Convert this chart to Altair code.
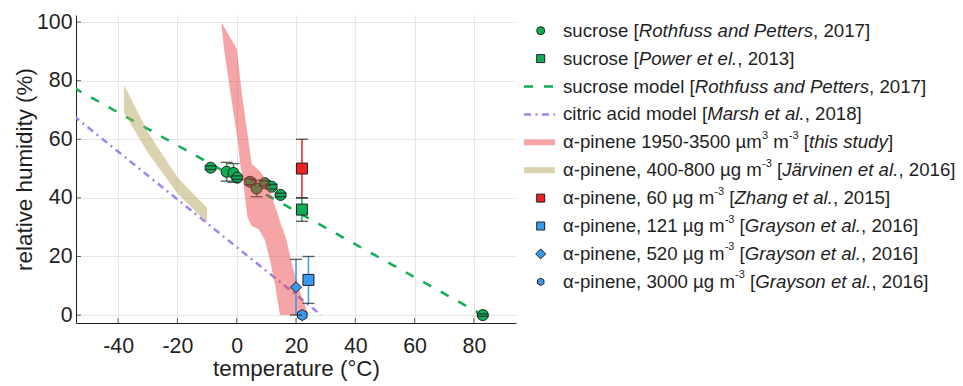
import altair as alt
import pandas as pd

# ------------------------------------------------------------------ data
# sucrose, Rothfuss and Petters 2017 (points with y error)
ros_T = [-8.8, -3.4, -1.1, 0.2, 4.5, 6.7, 9.5, 11.8, 14.8, 83.0]
ros_RH = [50.3, 48.9, 48.5, 46.9, 45.5, 43.2, 45.0, 43.8, 41.0, 0.0]
ros_err = [0.6, 3.2, 3.2, 0.6, 1.0, 2.8, 0.8, 0.8, 0.6, 0.4]
# sucrose, Power et al. 2013
power_T = [22.0]
power_RH = [36.0]
power_err = [4.0]
# alpha-pinene, Zhang et al. 2015
zhang_T = [22.0]
zhang_RH = [50.0]
zhang_err = [10.0]
# alpha-pinene, Grayson et al. 2016
g121_T, g121_RH, g121_err = [24.2], [12.0], [8.0]
g520_T, g520_RH, g520_err = [20.0], [9.5], [9.5]
g3000_T, g3000_RH, g3000_err = [22.1], [0.0], [0.0]
# models
sucmod_T = [-55.0, 83.0]
sucmod_RH = [77.6, 0.0]
citmod_T = [-55.0, 28.5]
citmod_RH = [68.0, 0.0]
# Jarvinen et al. 2016 band
jar_T = [-38.0, -30.0, -20.0, -10.0]
jar_hi = [78.5, 62.5, 47.0, 36.5]
jar_lo = [69.0, 55.5, 41.5, 31.5]
# this study band (x range for each RH)
study_RH = [0.0, 5.0, 10.0, 18.8, 25.6, 29.3, 30.5, 33.5, 37.0, 40.0, 45.5, 49.0, 51.5, 60.0, 75.0, 91.0, 99.6]
study_Tlo = [14.6, 13.8, 13.0, 11.2, 9.5, 7.4, 5.0, 3.6, 3.2, 2.8, 2.2, 1.6, 1.2, 0.3, -2.0, -4.3, -5.2]
study_Thi = [24.3, 22.4, 20.6, 18.3, 16.8, 15.6, 15.0, 14.2, 13.0, 12.0, 10.5, 7.9, 5.1, 3.9, 1.8, 0.0, -5.0]

x_ticks = [-40, -20, 0, 20, 40, 60, 80]
y_ticks = [0, 20, 40, 60, 80, 100]

legend_labels = [
    [("sucrose [", "n"), ("Rothfuss and Petters", "i"), (", 2017]", "n")],
    [("sucrose [", "n"), ("Power et el.", "i"), (", 2013]", "n")],
    [("sucrose model [", "n"), ("Rothfuss and Petters", "i"), (", 2017]", "n")],
    [("citric acid model [", "n"), ("Marsh et al.", "i"), (", 2018]", "n")],
    [("α-pinene 1950-3500 µm", "n"), ("3", "s"), (" m", "n"), ("-3", "s"), (" [", "n"), ("this study", "i"), ("]", "n")],
    [("α-pinene, 400-800 µg m", "n"), ("-3", "s"), (" [", "n"), ("Järvinen et al.", "i"), (", 2016]", "n")],
    [("α-pinene, 60 µg m", "n"), ("-3", "s"), (" [", "n"), ("Zhang et al.", "i"), (", 2015]", "n")],
    [("α-pinene, 121 µg m", "n"), ("-3", "s"), (" [", "n"), ("Grayson et al.", "i"), (", 2016]", "n")],
    [("α-pinene, 520 µg m", "n"), ("-3", "s"), (" [", "n"), ("Grayson et al.", "i"), (", 2016]", "n")],
    [("α-pinene, 3000 µg m", "n"), ("-3", "s"), (" [", "n"), ("Grayson et al.", "i"), (", 2016]", "n")],
]

# ------------------------------------------------------------------ styles
FONT = "Liberation Sans"
TXT = "#1f1f1f"
GREEN = "#0fae55"
RED = "#ee2020"
BLUE = "#3a9af0"
PURPLE = "#9d86ee"
BAND_RED = "#e8383a"
BAND_TAN = "#b8a860"
HEX = "M0,-1L0.866,-0.5L0.866,0.5L0,1L-0.866,0.5L-0.866,-0.5Z"
W, H = 440, 308
X_DOM = [-54.2, 94.2]
Y_DOM = [-2.7, 102.4]
PLAIN_LABEL = "'' + datum.value"


def xe(field="T"):
    return alt.X(f"{field}:Q", scale=alt.Scale(domain=X_DOM, nice=False, zero=False),
                 axis=alt.Axis(values=x_ticks, title="temperature (°C)", labelExpr=PLAIN_LABEL))


def ye(field="RH"):
    return alt.Y(f"{field}:Q", scale=alt.Scale(domain=Y_DOM, nice=False, zero=False),
                 axis=alt.Axis(values=y_ticks, title="relative humidity (%)", labelExpr=PLAIN_LABEL))


# ------------------------------------------------------------------ tables
series = ["ros", "power", "zhang", "g121", "g520", "g3000"]
ser_fill = [GREEN, GREEN, RED, BLUE, BLUE, BLUE]
ser_shape = ["circle", "square", "square", "square", "diamond", HEX]
ser_size = [121, 121, 121, 110, 140, 110]

rows = []
for name, T, R, E in [("ros", ros_T, ros_RH, ros_err), ("power", power_T, power_RH, power_err),
                      ("zhang", zhang_T, zhang_RH, zhang_err), ("g121", g121_T, g121_RH, g121_err),
                      ("g520", g520_T, g520_RH, g520_err), ("g3000", g3000_T, g3000_RH, g3000_err)]:
    for t, r, e in zip(T, R, E):
        rows.append(dict(series=name, T=t, RH=r, lo=r - e, hi=r + e))
pts = pd.DataFrame(rows)
under = pts[pts["series"] == "ros"]          # drawn below the band
over = pts[pts["series"] != "ros"]           # drawn above the band

sucmod = pd.DataFrame(dict(T=sucmod_T, RH=sucmod_RH))
citmod = pd.DataFrame(dict(T=citmod_T, RH=citmod_RH))
jar = pd.DataFrame(dict(T=jar_T, hi=jar_hi, lo=jar_lo))
study = pd.DataFrame(dict(RH=study_RH, lo=study_Tlo, hi=study_Thi)).sort_values("RH")

col = alt.Scale(domain=series, range=ser_fill)
shp = alt.Scale(domain=series, range=ser_shape)
siz = alt.Scale(domain=series, range=ser_size)

sucmod_line = alt.Chart(sucmod).mark_line(color=GREEN, strokeWidth=2.5, strokeDash=[9, 11], clip=True).encode(
    x=xe(), y=ye())
citmod_line = alt.Chart(citmod).mark_line(color=PURPLE, strokeWidth=2.5, strokeDash=[7, 4.5, 2, 4.5], clip=True).encode(
    x=xe(), y=ye())


def point_layers(df):
    e = df[df["hi"] > df["lo"]]
    bars = alt.Chart(e).mark_rule(strokeWidth=1.5).encode(
        x=xe(), y=ye("lo"), y2=alt.Y2("hi:Q"),
        color=alt.Color("series:N", scale=col, legend=None))
    c_lo = alt.Chart(e).mark_tick(orient="horizontal", size=12, thickness=1.4, color=TXT).encode(
        x=xe(), y=ye("lo"))
    c_hi = alt.Chart(e).mark_tick(orient="horizontal", size=12, thickness=1.4, color=TXT).encode(
        x=xe(), y=ye("hi"))
    p = alt.Chart(df).mark_point(filled=True, stroke=TXT, strokeWidth=1, opacity=1).encode(
        x=xe(), y=ye(),
        fill=alt.Fill("series:N", scale=col, legend=None),
        shape=alt.Shape("series:N", scale=shp, legend=None),
        size=alt.Size("series:N", scale=siz, legend=None))
    return [bars, p, c_lo, c_hi]


jar_band = alt.Chart(jar).mark_area(color=BAND_TAN, opacity=0.5).encode(
    x=xe(), y=ye("hi"), y2=alt.Y2("lo:Q"))
study_band = alt.Chart(study).mark_area(color=BAND_RED, opacity=0.45, orient="horizontal").encode(
    y=ye("RH"), x=xe("lo"), x2=alt.X2("hi:Q"))

xt = alt.Chart(pd.DataFrame(dict(T=x_ticks))).mark_tick(orient="vertical", size=5, thickness=1, color=TXT,
                                                       yOffset=-2.5).encode(x=xe(), y=alt.value(H))
yt = alt.Chart(pd.DataFrame(dict(RH=y_ticks))).mark_tick(orient="horizontal", size=5, thickness=1, color=TXT,
                                                        xOffset=2.5).encode(y=ye(), x=alt.value(0))

data_layer = alt.layer(sucmod_line, citmod_line, *point_layers(under),
                       jar_band, study_band, *point_layers(over), xt, yt)

# ------------------------------------------------------------------ legend (pixel layout)
AW = {' ': 278, ',': 278, '-': 333, '.': 278, '[': 278, ']': 278, '(': 333, ')': 333,
      '°': 400, 'µ': 577, 'α': 577, 'ä': 556}
for d in "0123456789":
    AW[d] = 556
AW.update(dict(A=667, B=667, C=722, D=722, E=667, F=611, G=778, H=722, I=278, J=500, K=667, L=556,
               M=833, N=722, O=778, P=667, Q=778, R=722, S=667, T=611, U=722, V=667, W=944, X=667,
               Y=667, Z=611))
AW.update(dict(a=556, b=556, c=500, d=556, e=556, f=278, g=556, h=556, i=222, j=222, k=500, l=222,
               m=833, n=556, o=556, p=556, q=556, r=333, s=500, t=278, u=556, v=500, w=722, x=500,
               y=500, z=500))
FS, FS_SUP = 18.67, 11.0


def tw(s, fs):
    return sum(AW.get(ch, 556) for ch in s) * fs / 1000.0


X_SYM, X_L0, X_L1, X_TXT = 464.7, 448.0, 479.0, 487.0
ROW0, ROWSTEP, BASE_OFF = 15.7, 27.9, 6.0

segs = []
for i, row in enumerate(legend_labels):
    x = X_TXT
    base = ROW0 + ROWSTEP * i + BASE_OFF
    for text, style in row:
        fs = FS_SUP if style == "s" else FS
        lead = len(text) - len(text.lstrip())
        segs.append(dict(x=x + tw(text[:lead], fs), y=base - (9.5 if style == "s" else 0),
                         text=text.strip(), style=style))
        x += tw(text, fs)
segs = pd.DataFrame(segs)


def lx(f="x"):
    return alt.X(f"{f}:Q", scale=alt.Scale(domain=[0, W], nice=False, zero=False), axis=None)


def ly(f="y"):
    return alt.Y(f"{f}:Q", scale=alt.Scale(domain=[0, H], nice=False, zero=False, reverse=True), axis=None)


def text_layer(style, **kw):
    return alt.Chart(segs[segs["style"] == style]).mark_text(
        align="left", baseline="alphabetic", font=FONT, color=TXT, **kw).encode(
        x=lx(), y=ly(), text="text:N")


leg_rows_y = [ROW0 + ROWSTEP * i for i in range(len(legend_labels))]
sym = pd.DataFrame(dict(
    x=[X_SYM] * 6,
    y=[leg_rows_y[i] for i in (0, 1, 6, 7, 8, 9)],
    shape=["circle", "square", "square", "square", "diamond", HEX],
    fill=[GREEN, GREEN, RED, BLUE, BLUE, BLUE],
    size=[64, 64, 64, 64, 100, 55]))
leg_sym = alt.Chart(sym).mark_point(filled=True, stroke=TXT, strokeWidth=1, opacity=1).encode(
    x=lx(), y=ly(),
    shape=alt.Shape("shape:N", scale=None), fill=alt.Fill("fill:N", scale=None),
    size=alt.Size("size:Q", scale=None))


def leg_line(i, **kw):
    d = pd.DataFrame(dict(x=[X_L0], x2=[X_L1], y=[leg_rows_y[i]]))
    return alt.Chart(d).mark_rule(**kw).encode(x=lx(), x2=alt.X2("x2:Q"), y=ly())


legend_layer = alt.layer(
    leg_line(2, color=GREEN, strokeWidth=2.5, strokeDash=[9, 11]),
    leg_line(3, color=PURPLE, strokeWidth=2.5, strokeDash=[7, 4.5, 2, 4.5]),
    leg_line(4, color=BAND_RED, strokeWidth=6, opacity=0.45),
    leg_line(5, color=BAND_TAN, strokeWidth=6, opacity=0.5),
    leg_sym,
    text_layer("n", fontSize=FS),
    text_layer("i", fontSize=FS, fontStyle="italic"),
    text_layer("s", fontSize=FS_SUP),
)

chart = alt.layer(data_layer, legend_layer).resolve_scale(x="independent", y="independent").properties(
    width=W, height=H,
    autosize=alt.AutoSizeParams(type="none"),
    padding={"left": 68, "top": 7, "right": 439, "bottom": 60},
).configure_view(stroke="transparent").configure_axis(
    domainColor=TXT, domainWidth=1, ticks=False, grid=True, gridColor="#e6e6e6", gridWidth=1,
    labelFont=FONT, labelFontSize=21.33, labelColor=TXT,
    titleFont=FONT, titleFontSize=22.4, titleFontWeight="normal", titleColor=TXT,
).configure_axisX(labelPadding=12, titlePadding=1).configure_axisY(labelPadding=4, titlePadding=0)

chart.save("out.html", embed_options={"renderer": "svg", "actions": False})
